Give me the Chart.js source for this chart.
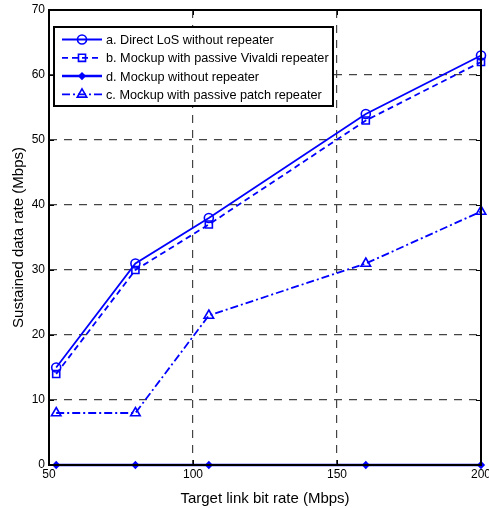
<!DOCTYPE html>
<html>
<head>
<meta charset="utf-8">
<script src="https://cdn.jsdelivr.net/npm/chart.js@4.4.0/dist/chart.umd.min.js"></script>
<style>
  html, body { margin: 0; padding: 0; background: #fff; }
  #wrap { width: 489px; height: 508px; }
</style>
</head>
<body>
<div id="wrap"><canvas id="rateChart" width="489" height="508"></canvas></div>
<script>
// 목표 링크 비트레이트 (x 값)
const bitRates = [52.5, 80, 105.5, 160, 200];
// 각 측정 시리즈 (Mbps)
const directLoS = [15, 31, 38, 54, 63];
const vivaldiRepeater = [14, 30, 37, 53, 62];
const noRepeater = [0, 0, 0, 0, 0];
const patchRepeater = [8, 8, 23, 31, 39];
// 축 눈금
const xTicks = [50, 100, 150, 200];
const yTicks = [0, 10, 20, 30, 40, 50, 60, 70];

const seriesLabels = [
    'a. Direct LoS without repeater',
    'b. Mockup with passive Vivaldi repeater',
    'd. Mockup without repeater',
    'c. Mockup with passive patch repeater'
];

function toPoints(values) {
    return values.map((v, i) => ({ x: bitRates[i], y: v }));
}

const BLUE = '#0000ff';
const FONT = '"Liberation Sans", Arial, sans-serif';

// 외곽 박스, 안쪽 눈금, 범례를 그리는 플러그인
const matlabFrame = {
    id: 'matlabFrame',
    afterDatasetsDraw(chart) {
        const { ctx, chartArea: a, scales } = chart;
        ctx.save();
        ctx.strokeStyle = '#000';
        ctx.lineWidth = 1;
        ctx.setLineDash([]);
        // 안쪽 눈금
        xTicks.forEach(t => {
            const px = Math.round(scales.x.getPixelForValue(t)) + 0.5;
            ctx.beginPath();
            ctx.moveTo(px, a.bottom); ctx.lineTo(px, a.bottom - 5);
            ctx.moveTo(px, a.top); ctx.lineTo(px, a.top + 5);
            ctx.stroke();
        });
        yTicks.forEach(t => {
            const py = Math.round(scales.y.getPixelForValue(t)) + 0.5;
            ctx.beginPath();
            ctx.moveTo(a.left, py); ctx.lineTo(a.left + 5, py);
            ctx.moveTo(a.right, py); ctx.lineTo(a.right - 5, py);
            ctx.stroke();
        });
        ctx.lineWidth = 2;
        ctx.strokeRect(a.left, a.top, a.right - a.left, a.bottom - a.top);

        // 범례
        const bx = 54, by = 27, bw = 279, bh = 79;
        ctx.fillStyle = '#fff';
        ctx.fillRect(bx, by, bw, bh);
        ctx.lineWidth = 2;
        ctx.strokeStyle = '#000';
        ctx.strokeRect(bx, by, bw, bh);
        ctx.font = '12.7px ' + FONT;
        ctx.textBaseline = 'middle';
        chart.data.datasets.forEach((ds, i) => {
            const y = by + 12.5 + i * 18.3;
            ctx.strokeStyle = ds.borderColor;
            ctx.lineWidth = ds.borderWidth;
            ctx.setLineDash(ds.borderDash || []);
            ctx.beginPath();
            ctx.moveTo(62, y); ctx.lineTo(102, y);
            ctx.stroke();
            ctx.setLineDash([]);
            ctx.fillStyle = ds.pointBackgroundColor;
            ctx.lineWidth = ds.pointBorderWidth;
            Chart.helpers.drawPoint(ctx, {
                pointStyle: ds.pointStyle,
                radius: ds.pointRadius,
                borderWidth: ds.pointBorderWidth,
                rotation: 0
            }, 82, y);
            ctx.fillStyle = '#000';
            ctx.fillText(ds.label, 106, y + 1);
        });
        ctx.restore();
    }
};

function makeSet(label, values, dash, style, radius, filled) {
    return {
        label: label,
        data: toPoints(values),
        borderColor: BLUE,
        backgroundColor: filled ? BLUE : 'rgba(0,0,0,0)',
        borderWidth: 1.8,
        borderDash: dash,
        pointStyle: style,
        pointRadius: radius,
        pointBorderWidth: 1.6,
        pointBorderColor: BLUE,
        pointBackgroundColor: filled ? BLUE : 'rgba(0,0,0,0)',
        clip: false,
        tension: 0
    };
}

const ctx = document.getElementById('rateChart').getContext('2d');
const rateChart = new Chart(ctx, {
    type: 'line',
    data: {
        datasets: [
            makeSet(seriesLabels[0], directLoS, [], 'circle', 4.5, false),
            makeSet(seriesLabels[1], vivaldiRepeater, [6, 4], 'rect', 5, false),
            Object.assign(makeSet(seriesLabels[2], noRepeater, [], 'rectRot', 3, true), { borderWidth: 2.5 }),
            makeSet(seriesLabels[3], patchRepeater, [8, 3, 2, 3], 'triangle', 5.5, false)
        ]
    },
    options: {
        responsive: false,
        animation: false,
        devicePixelRatio: 1,
        layout: { padding: { left: 0, right: 8, top: 10, bottom: 0 } },
        plugins: {
            legend: { display: false },
            tooltip: { enabled: false }
        },
        scales: {
            x: {
                type: 'linear',
                min: 50, max: 200,
                afterBuildTicks: s => { s.ticks = xTicks.map(v => ({ value: v })); },
                afterFit: s => { s.height = 43; s.paddingLeft = 0; s.paddingRight = 0; },
                ticks: {
                    color: '#000', padding: 2, maxRotation: 0,
                    font: { family: FONT, size: 12 }
                },
                grid: { color: '#444', lineWidth: 1.2, tickLength: 0, drawTicks: false },
                border: { display: false, dash: [8, 7] },
                title: {
                    display: true, text: 'Target link bit rate (Mbps)', color: '#000',
                    padding: { top: 2, bottom: 0 },
                    font: { family: FONT, size: 15 }
                }
            },
            y: {
                type: 'linear',
                min: 0, max: 70,
                afterBuildTicks: s => { s.ticks = yTicks.map(v => ({ value: v })); },
                afterFit: s => { s.width = 49; s.paddingTop = 0; s.paddingBottom = 0; },
                ticks: {
                    color: '#000', padding: 4,
                    font: { family: FONT, size: 12 }
                },
                grid: { color: '#444', lineWidth: 1.2, drawTicks: false },
                border: { display: false, dash: [8, 7] },
                title: {
                    display: true, text: 'Sustained data rate (Mbps)', color: '#000',
                    padding: { top: 10, bottom: 0 },
                    font: { family: FONT, size: 15 }
                }
            }
        }
    },
    plugins: [matlabFrame]
});
</script>
</body>
</html>
